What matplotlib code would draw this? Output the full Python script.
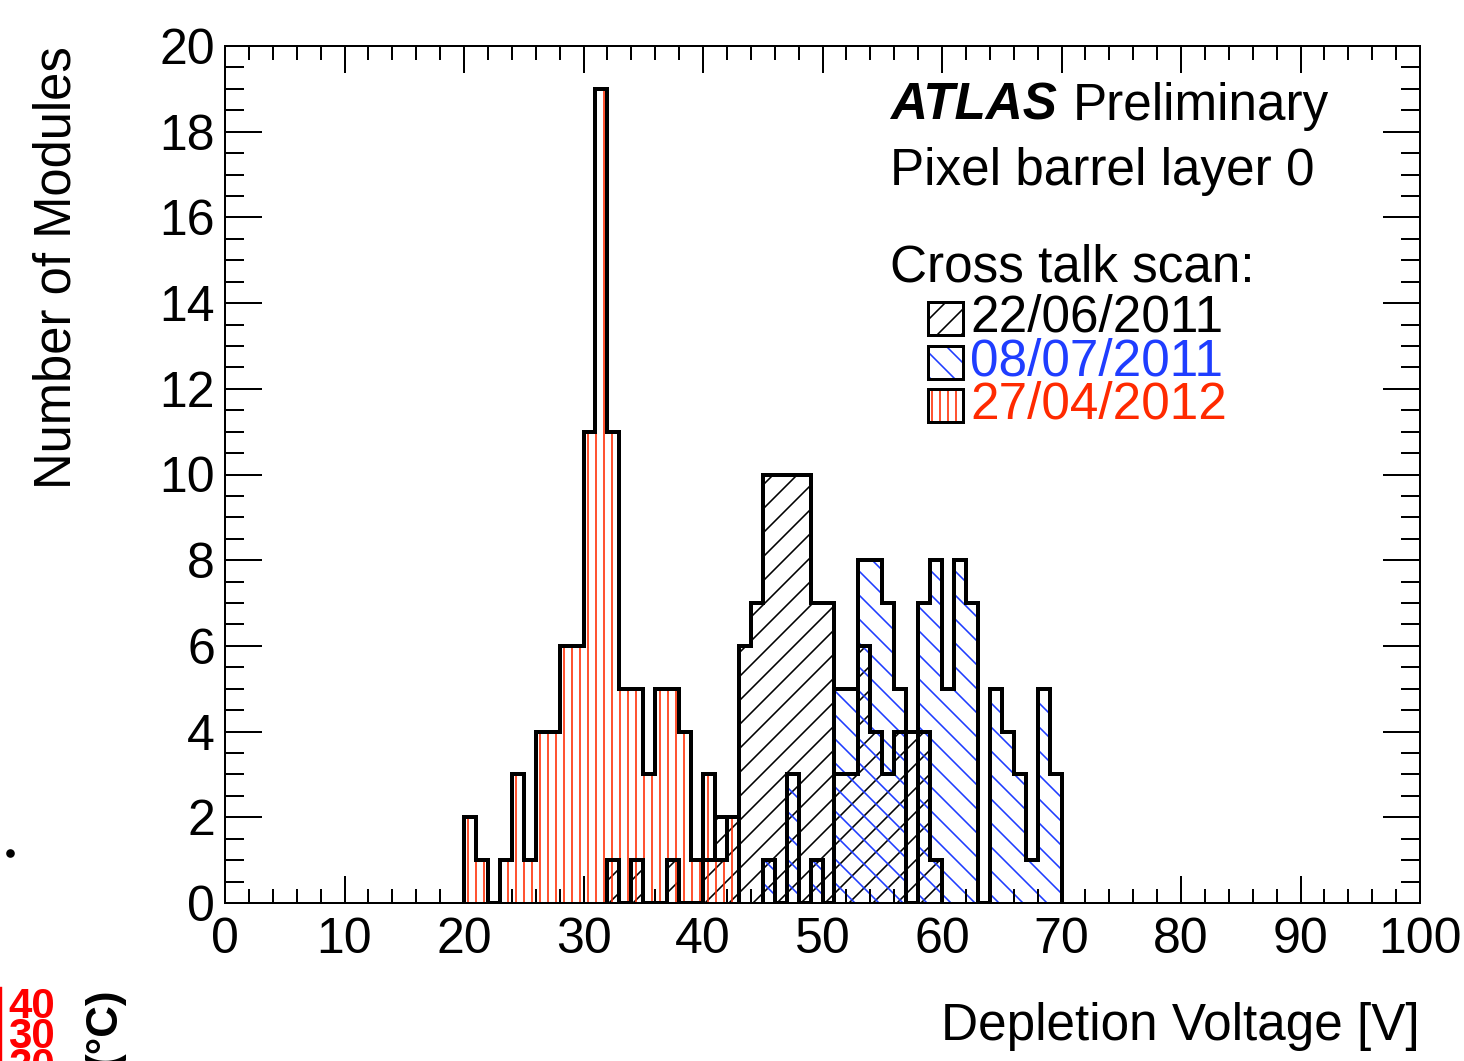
import numpy as np
import matplotlib
matplotlib.use("Agg")
import matplotlib.pyplot as plt
from matplotlib.lines import Line2D
from matplotlib.patches import Rectangle
from matplotlib.ticker import MultipleLocator

# ---------------- data (1 V bins, counts per bin starting at *_start) ----------------
black_label = "22/06/2011"
black_start = 32
black_counts = [1, 0, 1, 0, 0, 1, 0, 0, 1, 2, 2, 6, 7, 10, 10, 10, 10, 7, 7, 3, 3, 6, 4, 3, 4, 4, 4, 1]

blue_label = "08/07/2011"
blue_start = 45
blue_counts = [1, 0, 3, 0, 1, 0, 5, 5, 8, 8, 7, 5, 0, 7, 8, 5, 8, 7, 0, 5, 4, 3, 1, 5, 3]

red_label = "27/04/2012"
red_start = 20
red_counts = [2, 1, 0, 1, 3, 1, 4, 4, 6, 6, 11, 19, 11, 5, 5, 3, 5, 5, 4, 1, 3, 1, 2]

x_range = (0, 100)
y_range = (0, 20)

# ---------------- style ----------------
plt.rcParams["font.family"] = ["Liberation Sans", "DejaVu Sans"]
plt.rcParams["hatch.linewidth"] = 0.8

W, H, DPI = 1464, 1061, 144
fig = plt.figure(figsize=(W / DPI, H / DPI), dpi=DPI)
ax = fig.add_axes([225 / W, 1 - 903 / H, (1420 - 225) / W, (903 - 46) / H])

BLUE = "#1f3dff"
RED = "#ff2a00"
TXT = 25.6

series = [
    (black_start, black_counts, "black", "//"),
    (blue_start, blue_counts, BLUE, "\\\\"),
    (red_start, red_counts, RED, "|||"),
]

for start, counts, col, hatch in series:
    vals = np.asarray(counts, dtype=float)
    edges = np.arange(start, start + len(vals) + 1)
    ax.stairs(vals, edges, fill=True, facecolor="none", edgecolor=col,
              hatch=hatch, linewidth=0)
for start, counts, col, hatch in series:
    vals = np.asarray(counts, dtype=float)
    edges = np.arange(start, start + len(vals) + 1)
    ax.stairs(vals, edges, fill=False, baseline=0, edgecolor="black",
              linewidth=2.0)

ax.set_xlim(*x_range)
ax.set_ylim(*y_range)

for s in ax.spines.values():
    s.set_linewidth(1.0)

ax.xaxis.set_major_locator(MultipleLocator(10))
ax.xaxis.set_minor_locator(MultipleLocator(2))
ax.yaxis.set_major_locator(MultipleLocator(2))
ax.yaxis.set_minor_locator(MultipleLocator(0.5))
ax.tick_params(axis="both", which="both", direction="in", top=True, right=True,
               width=1.0, labelsize=25)
ax.tick_params(axis="x", which="major", length=13.5, pad=7)
ax.tick_params(axis="x", which="minor", length=7)
ax.tick_params(axis="y", which="major", length=18.5, pad=5)
ax.tick_params(axis="y", which="minor", length=9.5)

# axis titles
ax.text(-0.1406, 1.0, "Number of Modules", transform=ax.transAxes, rotation=90,
        ha="center", va="top", fontsize=25.4)
ax.text(1.0, -0.1599, "Depletion Voltage [V]", transform=ax.transAxes,
        ha="right", va="baseline", fontsize=TXT)

# labels
ax.text(0.5565, 0.9137, "ATLAS", transform=ax.transAxes, fontsize=TXT,
        fontweight="bold", fontstyle="italic", va="baseline", ha="left")
ax.text(0.7096, 0.9137, "Preliminary", transform=ax.transAxes, fontsize=TXT,
        va="baseline", ha="left")
ax.text(0.5565, 0.838, "Pixel barrel layer 0", transform=ax.transAxes,
        fontsize=TXT, va="baseline", ha="left")
ax.text(0.5565, 0.741, "Cross talk scan:", transform=ax.transAxes,
        fontsize=TXT, va="center", ha="left")

# legend (manual)
leg = [(black_label, "black", "//", 0.6826),
       (blue_label, BLUE, "\\\\", 0.631),
       (red_label, RED, "|||", 0.581)]
bw, bh = 35 / 1195, 33 / 857
for lab, col, hatch, yc in leg:
    x0 = 0.588
    ax.add_patch(Rectangle((x0, yc - bh / 2), bw, bh, transform=ax.transAxes,
                           facecolor="none", edgecolor=col, hatch=hatch,
                           linewidth=0, clip_on=False))
    ax.add_patch(Rectangle((x0, yc - bh / 2), bw, bh, transform=ax.transAxes,
                           facecolor="none", edgecolor="black", linewidth=1.5,
                           clip_on=False))
    ax.text(0.6234, yc, lab, transform=ax.transAxes, color=col, fontsize=TXT,
            va="center", ha="left")

# stray fragments of a neighbouring figure at the left border
fig.add_artist(Line2D([10 / W], [1 - 853 / H], marker="o", markersize=3.3,
                      color="black", linestyle="none"))
fig.add_artist(Line2D([1 / W, 1 / W], [0, 1 - 988 / H], color="red", lw=1.2))
for lab, ytop in [("40", 987), ("30", 1017), ("20", 1047)]:
    fig.text(8 / W, 1 - ytop / H, lab, ha="left", va="top", color="red",
             fontweight="bold", fontsize=21)
fig.text(104 / W, 1 - 987 / H, "(\u00b0C)", rotation=90, ha="center", va="top",
         fontweight="bold", fontsize=22)

fig.savefig("out.png", dpi=DPI)
